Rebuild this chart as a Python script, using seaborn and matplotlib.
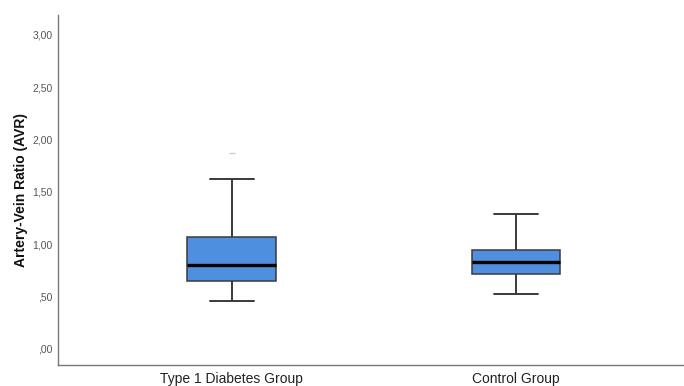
import matplotlib
matplotlib.use("Agg")
import matplotlib.pyplot as plt
import seaborn as sns
import pandas as pd

# five-number summaries (min, Q1, median, Q3, max)
groups = ["Type 1 Diabetes Group", "Control Group"]
diabetes_vals = [0.46, 0.65, 0.80, 1.07, 1.62]
control_vals = [0.525, 0.716, 0.83, 0.945, 1.29]
outlier_group = ["Type 1 Diabetes Group"]
outlier_vals = [1.87]
ytick_vals = [0.0, 0.5, 1.0, 1.5, 2.0, 2.5, 3.0]
ytick_labels = [",00", ",50", "1,00", "1,50", "2,00", "2,50", "3,00"]

df = pd.DataFrame({
    "group": [groups[0]] * len(diabetes_vals) + [groups[1]] * len(control_vals),
    "avr": diabetes_vals + control_vals,
})
out_df = pd.DataFrame({"group": outlier_group, "avr": outlier_vals})

sns.set_style("white")
plt.rcParams["font.family"] = ["Liberation Sans", "DejaVu Sans"]

fig = plt.figure(figsize=(6.84, 3.86), dpi=100)
ax = fig.add_axes([0.0848, 0.0544, 0.9152, 0.9066])

line_col = "#3a3a3a"
sns.boxplot(
    data=df, x="group", y="avr", order=groups, whis=(0, 100), width=0.31,
    color="#4f8fe0", saturation=1, linecolor=line_col, linewidth=1.1,
    showfliers=False, ax=ax,
    medianprops={"color": "black", "linewidth": 2.4},
    capprops={"color": line_col, "linewidth": 1.4},
    whiskerprops={"color": line_col, "linewidth": 1.4},
)
# faint outlier mark above the first box
sns.stripplot(data=out_df, x="group", y="avr", order=groups, marker="_",
              size=4, color="#cccccc", linewidth=1, jitter=False, ax=ax)

ax.set_ylim(-0.153, 3.19)
ax.set_xlim(-0.61, 1.59)
ax.set_yticks(ytick_vals)
ax.set_yticklabels(ytick_labels, fontsize=7.5, color="#555555")
ax.tick_params(axis="y", length=0, pad=4)
ax.tick_params(axis="x", length=0, pad=5, labelsize=10, labelcolor="#222222")
ax.set_xlabel("")
ax.set_ylabel("Artery-Vein Ratio (AVR)", fontsize=10, fontweight="bold",
              color="#111111", labelpad=3)

for side in ["top", "right"]:
    ax.spines[side].set_visible(False)
for side in ["left", "bottom"]:
    ax.spines[side].set_color("#777777")
    ax.spines[side].set_linewidth(1.0)

fig.savefig("out.png", dpi=100)
